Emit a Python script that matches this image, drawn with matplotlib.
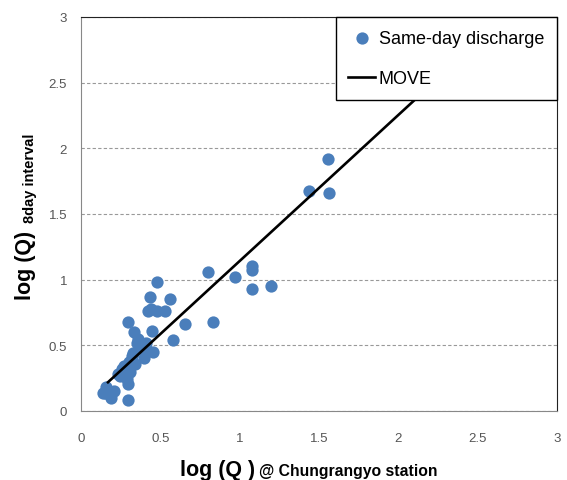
import matplotlib
matplotlib.use("Agg")
import matplotlib.pyplot as plt

plt.rcParams["font.family"] = ["Liberation Sans", "DejaVu Sans"]

# log discharge at Chungrangyo vs log discharge with 8-day interval
x_obs = [0.477, 0.435, 0.56, 0.424, 0.477, 0.53, 0.298, 0.336, 0.445, 0.655,
         0.58, 0.35, 0.38, 0.424, 0.456, 0.40, 0.32, 0.30, 0.256, 0.235,
         0.29, 0.298, 0.29, 0.16, 0.14, 0.18, 0.21, 0.298, 0.36, 0.41,
         0.27, 0.245, 0.19, 0.15, 0.80, 0.97, 1.075, 1.08, 1.08, 1.197,
         0.834, 1.554, 1.44, 1.565, 0.33, 0.37, 0.40, 0.34, 0.31, 0.44]
y_obs = [0.98, 0.866, 0.853, 0.764, 0.764, 0.764, 0.675, 0.60, 0.61, 0.663,
         0.543, 0.52, 0.50, 0.46, 0.45, 0.40, 0.42, 0.37, 0.32, 0.28,
         0.28, 0.205, 0.24, 0.18, 0.14, 0.12, 0.155, 0.08, 0.55, 0.52,
         0.345, 0.27, 0.10, 0.14, 1.056, 1.018, 1.107, 1.07, 0.93, 0.955,
         0.68, 1.92, 1.673, 1.657, 0.44, 0.48, 0.50, 0.36, 0.30, 0.78]

# MOVE line
move_x = [0.17, 2.5]
move_y = [0.219, 2.81]

fig = plt.figure(figsize=(5.67, 4.81), dpi=100)
ax = fig.add_axes([81 / 567, 69 / 481, 476 / 567, 394 / 481])

ax.scatter(x_obs, y_obs, s=78, color="#4A7EBB", zorder=3, label="Same-day discharge",
           linewidths=0)
ax.plot(move_x, move_y, color="black", lw=1.9, zorder=4, label="MOVE")

ax.set_xlim(0, 3)
ax.set_ylim(0, 3)
ax.set_xticks([0, 0.5, 1, 1.5, 2, 2.5, 3])
ax.set_xticklabels(["0", "0.5", "1", "1.5", "2", "2.5", "3"])
ax.set_yticks([0, 0.5, 1, 1.5, 2, 2.5, 3])
ax.set_yticklabels(["0", "0.5", "1", "1.5", "2", "2.5", "3"])
ax.tick_params(length=0, labelsize=9.5, labelcolor="#555555")
ax.tick_params(axis="x", pad=15)
ax.tick_params(axis="y", pad=10)
ax.yaxis.grid(True, ls=(0, (3, 2)), color="#999999", lw=0.8)
ax.set_axisbelow(True)
for s in ["left", "bottom"]:
    ax.spines[s].set_color("#888888")
for s in ["top", "right"]:
    ax.spines[s].set_color("#222222")

leg = ax.legend(loc="upper right", bbox_to_anchor=(1.0, 1.0), fontsize=13,
                frameon=True, fancybox=False, borderaxespad=0,
                labelspacing=1.3, handlelength=1.5, handletextpad=0.2,
                borderpad=0.7, scatterpoints=1)
leg.get_frame().set_edgecolor("black")
leg.get_frame().set_linewidth(1.0)
leg.get_frame().set_alpha(1)
leg.set_zorder(10)

fig.text(255 / 567, 1 - 476 / 481, "log (Q )", fontsize=15.5, fontweight="bold",
         ha="right", va="baseline")
fig.text(259 / 567, 1 - 476 / 481, "@ Chungrangyo station", fontsize=11.3,
         fontweight="bold", ha="left", va="baseline")
fig.text(25 / 567, 1 - 300 / 481, "log (Q)", fontsize=15.5, fontweight="bold",
         rotation=90, ha="center", va="bottom")
fig.text(30 / 567, 1 - 223 / 481, "8day interval", fontsize=10.5, fontweight="bold",
         rotation=90, ha="center", va="bottom")

fig.savefig("out.png", dpi=100)
